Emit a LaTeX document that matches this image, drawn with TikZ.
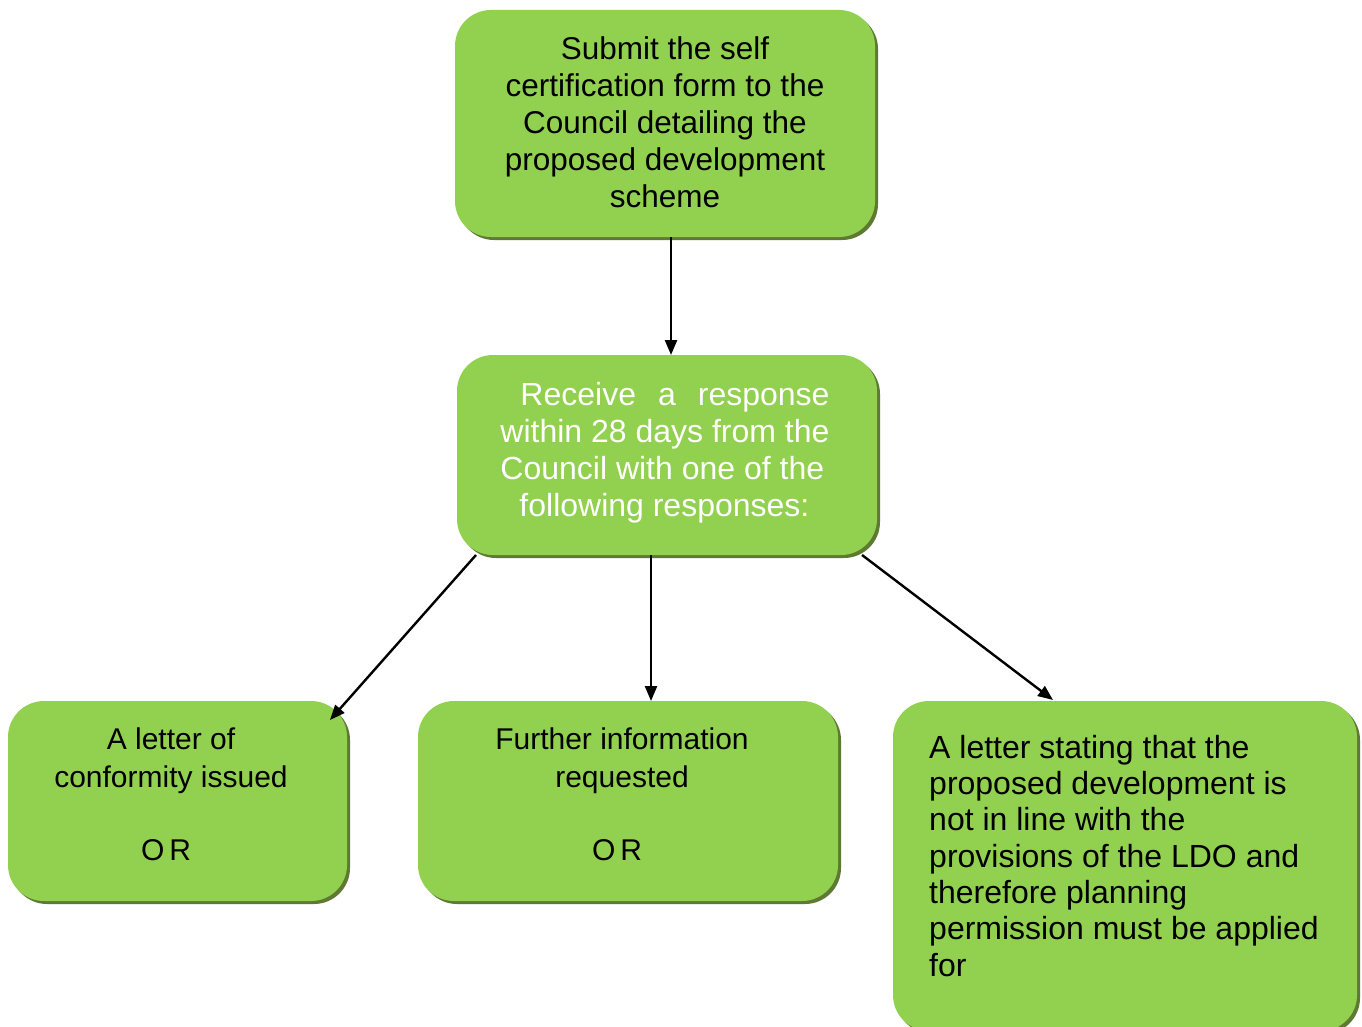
\documentclass[tikz,border=0pt]{standalone}
\usepackage{fontspec}
\setmainfont{Liberation Sans}
\usetikzlibrary{arrows.meta,shadows}
\definecolor{boxgreen}{HTML}{92D050}
\definecolor{shadowc}{HTML}{5E7A32}
\tikzset{
  x=1pt, y=-1pt,
  box/.style={rectangle, rounded corners=36pt, fill=boxgreen, draw=none, inner sep=0pt,
    copy shadow={shadow xshift=3pt, shadow yshift=-3pt, fill=shadowc, draw=none}},
  txt/.style={inner sep=0pt, font=\fontsize{31.5}{37}\selectfont, align=center},
  arr/.style={line width=2.4pt, -{Triangle[length=15pt,width=12pt]}}
}
\begin{document}
\begin{tikzpicture}
\useasboundingbox (0,0) rectangle (1362,1027);
% boxes
\node[box, minimum width=420pt, minimum height=227pt] (top) at (665,123.5) {};
\node[box, minimum width=420pt, minimum height=200pt] (mid) at (667,455) {};
\node[box, minimum width=339pt, minimum height=200pt] (left) at (177.5,801) {};
\node[box, minimum width=420pt, minimum height=200pt] (cen) at (628,801) {};
\node[box, minimum width=464pt, minimum height=330pt] (right) at (1125,866) {};
% texts
\node[txt] (ttop) at (665,122) {Submit the self\\certification form to the\\Council detailing the\\proposed development\\scheme};
\node[txt, text=white, align=left, font=\fontsize{32}{37}\selectfont] (tmid) at (665,453) {\hspace*{20pt}Receive\hspace{22pt}a\hspace{22pt}response\\within 28 days from the\\Council with one of the\\\hspace*{19pt}following responses:};
\node[txt, font=\fontsize{30}{38}\selectfont] (tleft) at (171,761) {A letter of\\conformity issued};
\node[txt, font=\fontsize{30}{38}\selectfont] (orleft) at (166,850) {O\,R};
\node[txt, font=\fontsize{30}{38}\selectfont] (tcen) at (622,761) {Further information\\requested};
\node[txt, font=\fontsize{30}{38}\selectfont] (orcen) at (617,850) {O\,R};
\node[txt, align=left, font=\fontsize{32}{36.3}\selectfont, anchor=north west] (tright) at (929,735) {A letter stating that the\\proposed development is\\not in line with the\\provisions of the LDO and\\therefore planning\\permission must be applied\\for};
% connector ends
\coordinate (s1) at (671,237);
\coordinate (e1) at (671,355);
\coordinate (s2) at (476,555);
\coordinate (e2) at (330,720);
\coordinate (s3) at (651,555);
\coordinate (e3) at (651,701);
\coordinate (s4) at (862,555);
\coordinate (e4) at (1053,700);
\draw[arr] (s1) -- (e1);
\draw[arr] (s2) -- (e2);
\draw[arr] (s3) -- (e3);
\draw[arr] (s4) -- (e4);
\end{tikzpicture}
\end{document}
